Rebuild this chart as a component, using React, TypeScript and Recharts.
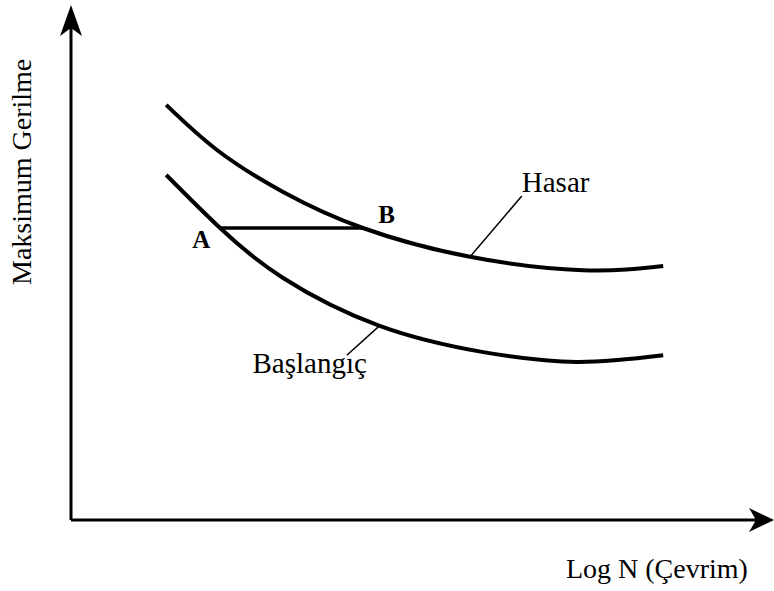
import React from "react";
import { LineChart, Line, XAxis, YAxis, ReferenceLine, ReferenceDot } from "recharts";

// Hasar (failure) curve
const hasarX = [13.6, 20.9, 30.3, 41.7, 57.0, 73.1, 84.6];
const hasarY = [80.6, 71.8, 63.7, 56.7, 51.1, 48.5, 49.3];

// Başlangıç (initiation) curve
const baslangicX = [13.6, 21.3, 30.3, 44.1, 58.9, 72.3, 84.6];
const baslangicY = [67.0, 56.7, 47.0, 37.7, 32.6, 30.7, 32.0];

// A-B horizontal segment
const pointA = { x: 21.3, y: 56.7 };
const pointB = { x: 41.7, y: 56.7 };

// leader lines
const hasarLeader = [{ x: 57.0, y: 51.1 }, { x: 64.4, y: 62.9 }];
const baslangicLeader = [{ x: 43.9, y: 37.5 }, { x: 39.4, y: 32.0 }];

// text annotations
const labels = [
  { text: "Hasar", x: 64.4, y: 63.7, anchor: "start", bold: false, size: 29, rotate: false },
  { text: "Başlangıç", x: 34.1, y: 28.5, anchor: "middle", bold: false, size: 29, rotate: false },
  { text: "A", x: 18.6, y: 52.8, anchor: "middle", bold: true, size: 25, rotate: false },
  { text: "B", x: 45.1, y: 57.7, anchor: "middle", bold: true, size: 25, rotate: false },
  { text: "Log N (Çevrim)", x: 83.7, y: -11.3, anchor: "middle", bold: false, size: 28, rotate: false },
  { text: "Maksimum Gerilme", x: -7.0, y: 67.6, anchor: "middle", bold: false, size: 28, rotate: true },
];

const hasarData = hasarX.map((x, i) => ({ x, y: hasarY[i] }));
const baslangicData = baslangicX.map((x, i) => ({ x, y: baslangicY[i] }));
const abData = [pointA, pointB];

const FONT = "'Liberation Serif', 'Times New Roman', serif";

const makeText = (l: any) => (props: any) => {
  const { cx, cy } = props;
  if (l.rotate) {
    return (
      <text
        x={cx}
        y={cy}
        textAnchor="middle"
        dominantBaseline="central"
        transform={`rotate(-90 ${cx} ${cy})`}
        fontFamily={FONT}
        fontSize={l.size}
        fill="#000"
      >
        {l.text}
      </text>
    );
  }
  return (
    <text
      x={cx}
      y={cy}
      textAnchor={l.anchor}
      fontFamily={FONT}
      fontSize={l.size}
      fontWeight={l.bold ? "bold" : "normal"}
      fill="#000"
    >
      {l.text}
    </text>
  );
};

const ArrowUp = (props: any) => {
  const { cx, cy } = props;
  return (
    <path
      d={`M${cx},${cy} L${cx + 11},${cy + 31} L${cx},${cy + 23} L${cx - 11},${cy + 31} Z`}
      fill="#000"
    />
  );
};

const ArrowRight = (props: any) => {
  const { cx, cy } = props;
  const tx = cx + 3;
  return (
    <path
      d={`M${tx},${cy} L${tx - 25},${cy - 12} L${tx - 18},${cy} L${tx - 25},${cy + 12} Z`}
      fill="#000"
    />
  );
};

export default function App() {
  return (
    <div style={{ position: "absolute", left: 0, top: 0, background: "#fff" }}>
      <LineChart
        width={774}
        height={591}
        margin={{ top: 5, right: 3, bottom: 71, left: 71 }}
      >
        <XAxis type="number" dataKey="x" domain={[0, 100]} hide allowDataOverflow />
        <YAxis type="number" dataKey="y" domain={[0, 100]} hide allowDataOverflow />
        <ReferenceLine
          segment={[{ x: 0, y: 0 }, { x: 99, y: 0 }]}
          stroke="#000"
          strokeWidth={3}
          ifOverflow="visible"
        />
        <ReferenceLine
          segment={[{ x: 0, y: 0 }, { x: 0, y: 97 }]}
          stroke="#000"
          strokeWidth={3}
          ifOverflow="visible"
        />
        <ReferenceDot x={0} y={100} r={0} ifOverflow="visible" shape={ArrowUp} />
        <ReferenceDot x={100} y={0} r={0} ifOverflow="visible" shape={ArrowRight} />
        <ReferenceLine
          segment={hasarLeader}
          stroke="#000"
          strokeWidth={1.5}
          ifOverflow="visible"
        />
        <ReferenceLine
          segment={baslangicLeader}
          stroke="#000"
          strokeWidth={1.5}
          ifOverflow="visible"
        />
        <Line
          data={hasarData}
          dataKey="y"
          type="natural"
          stroke="#000"
          strokeWidth={4}
          dot={false}
          activeDot={false}
          isAnimationActive={false}
        />
        <Line
          data={baslangicData}
          dataKey="y"
          type="natural"
          stroke="#000"
          strokeWidth={4}
          dot={false}
          activeDot={false}
          isAnimationActive={false}
        />
        <Line
          data={abData}
          dataKey="y"
          type="linear"
          stroke="#000"
          strokeWidth={3.5}
          dot={false}
          activeDot={false}
          isAnimationActive={false}
        />
        {labels.map((l) => (
          <ReferenceDot
            key={l.text}
            x={l.x}
            y={l.y}
            r={0}
            ifOverflow="visible"
            shape={makeText(l)}
          />
        ))}
      </LineChart>
    </div>
  );
}
